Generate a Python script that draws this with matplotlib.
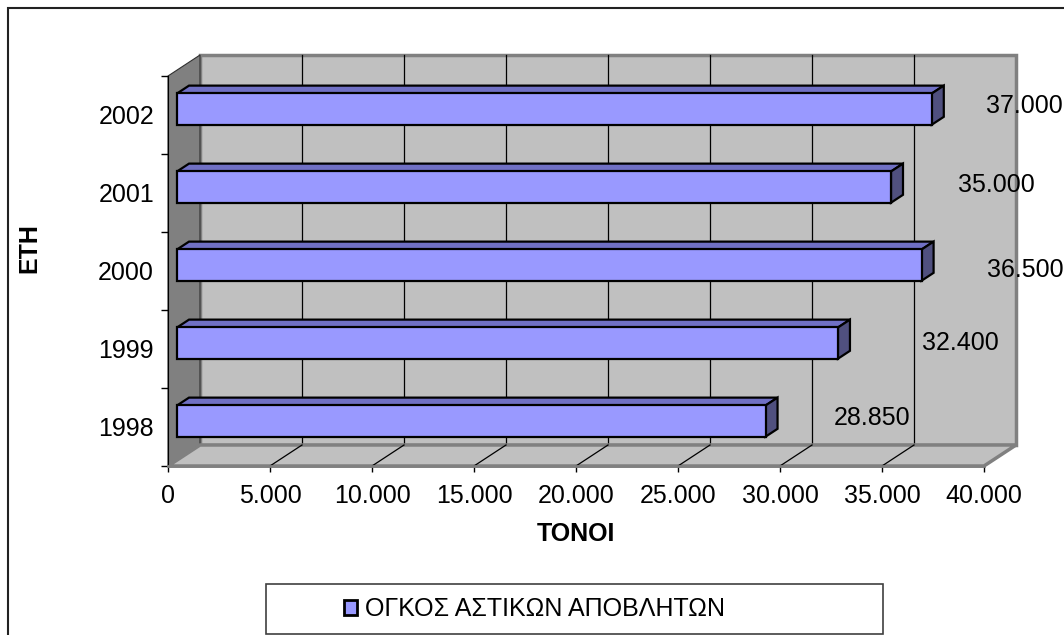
import numpy as np
import matplotlib
matplotlib.use("Agg")
import matplotlib.pyplot as plt
from matplotlib.patches import Polygon, Patch, Rectangle
from matplotlib.ticker import FuncFormatter

plt.rcParams['font.family'] = ['Liberation Sans', 'DejaVu Sans']

# δεδομένα
years = ['1998', '1999', '2000', '2001', '2002']
tonnes = [28850, 32400, 36500, 35000, 37000]
series_name = 'ΟΓΚΟΣ ΑΣΤΙΚΩΝ ΑΠΟΒΛΗΤΩΝ'
x_ticks = np.arange(0, 40001, 5000)

# θέσεις ετικετών τιμών (pixels από το άκρο της ράβδου)
label_offsets = [(77, 9), (93, 6), (74, 1), (76, 8), (63, 9)]

FRONT = '#9999ff'
TOP = '#7070c4'
SIDE = '#50507f'
WALL = '#c0c0c0'
DARK = '#808080'

W, H = 1064, 635
fig = plt.figure(figsize=(W / 100, H / 100), dpi=100)
ax = fig.add_axes([168 / W, (H - 466) / H, 816 / W, 390 / H])
ax.set_xlim(0, 40000)
ax.set_ylim(-0.5, 4.5)
ax.patch.set_visible(False)

# βάθος της τρισδιάστατης όψης σε μονάδες δεδομένων
DX = 32 / 816 * 40000
DY = 21 / 78


def p(v, c, d):
    return (v + d * DX, c + d * DY)


def face(pts, **kw):
    ax.add_patch(Polygon(pts, closed=True, clip_on=False, **kw))


cats = np.arange(len(years))
lo, hi = -0.5, len(years) - 0.5
xmax = x_ticks[-1]

# πίσω τοίχος, αριστερός τοίχος, δάπεδο
face([p(0, lo, 1), p(xmax, lo, 1), p(xmax, hi, 1), p(0, hi, 1)],
     facecolor=WALL, edgecolor=DARK, lw=2.5, zorder=0)
face([p(0, lo, 0), p(0, lo, 1), p(0, hi, 1), p(0, hi, 0)],
     facecolor=DARK, edgecolor='#303030', lw=0.8, zorder=0.2)
face([p(0, lo, 0), p(xmax, lo, 0), p(xmax, lo, 1), p(0, lo, 1)],
     facecolor=WALL, edgecolor=DARK, lw=2.5, zorder=0.3)

for t in x_ticks[1:-1]:
    ax.plot(*zip(p(t, lo, 1), p(t, hi, 1)), color='black', lw=0.9,
            zorder=0.1, clip_on=False)
    ax.plot(*zip(p(t, lo, 0), p(t, lo, 1)), color='black', lw=0.9,
            zorder=0.4, clip_on=False)

# ράβδοι
h = 0.2
d1, d2 = 9 / 32, 21 / 32
for c, v in zip(cats, tonnes):
    face([p(0, c + h, d1), p(v, c + h, d1), p(v, c + h, d2), p(0, c + h, d2)],
         facecolor=TOP, edgecolor='black', lw=1.6, joinstyle='miter', zorder=3)
    face([p(v, c - h, d1), p(v, c - h, d2), p(v, c + h, d2), p(v, c + h, d1)],
         facecolor=SIDE, edgecolor='black', lw=1.6, joinstyle='miter', zorder=3)
ax.barh(cats + d1 * DY, tonnes, left=d1 * DX, height=2 * h, color=FRONT,
        edgecolor='black', lw=1.6, zorder=4, clip_on=False)

fmt = lambda v: f"{v:,.0f}".replace(',', '.')

for c, v, (ox, oy) in zip(cats, tonnes, label_offsets):
    ax.annotate(fmt(v), xy=(v, c), xytext=(ox * 0.72, oy * 0.72),
                textcoords='offset points', ha='left', va='center',
                fontsize=18, zorder=5, annotation_clip=False)

# άξονες
for s in ['top', 'right']:
    ax.spines[s].set_visible(False)
ax.spines['left'].set_color('black')
ax.spines['bottom'].set_color(DARK)
ax.spines['bottom'].set_linewidth(2)

ax.set_xticks(x_ticks)
ax.xaxis.set_major_formatter(FuncFormatter(lambda v, pos: fmt(v)))
ax.tick_params(axis='x', length=4, width=1, pad=9, labelsize=18)

ax.set_yticks(cats)
ax.set_yticklabels(years)
ax.set_yticks(np.arange(lo, hi + 0.1, 1), minor=True)
ax.tick_params(axis='y', which='major', length=0, pad=10, labelsize=18)
ax.tick_params(axis='y', which='minor', length=5, width=1)

ax.set_xlabel('ΤΟΝΟΙ', fontsize=18, fontweight='bold', labelpad=10)
ax.set_ylabel('ΕΤΗ', fontsize=18, fontweight='bold')
ax.yaxis.set_label_coords(-0.155, 0.56)

# υπόμνημα
fig.add_artist(Rectangle((266 / W, 1 - 634 / H), 617 / W, 50 / H,
                         transform=fig.transFigure, facecolor='white',
                         edgecolor='#404040', lw=1.2))
fig.legend(handles=[Patch(facecolor=FRONT, edgecolor='black', lw=2,
                          label=series_name)],
           loc='center left', bbox_to_anchor=(331 / W, 1 - 609 / H),
           frameon=False, fontsize=18, handlelength=0.55, handleheight=0.55,
           handletextpad=0.3, borderpad=0)

# πλαίσιο γραφήματος
fig.add_artist(Rectangle((7.5 / W, -0.1), 1.2, 1.1 - 8 / H,
                         transform=fig.transFigure, facecolor='none',
                         edgecolor='#222222', lw=1.5))

fig.savefig('out.png', dpi=100)
